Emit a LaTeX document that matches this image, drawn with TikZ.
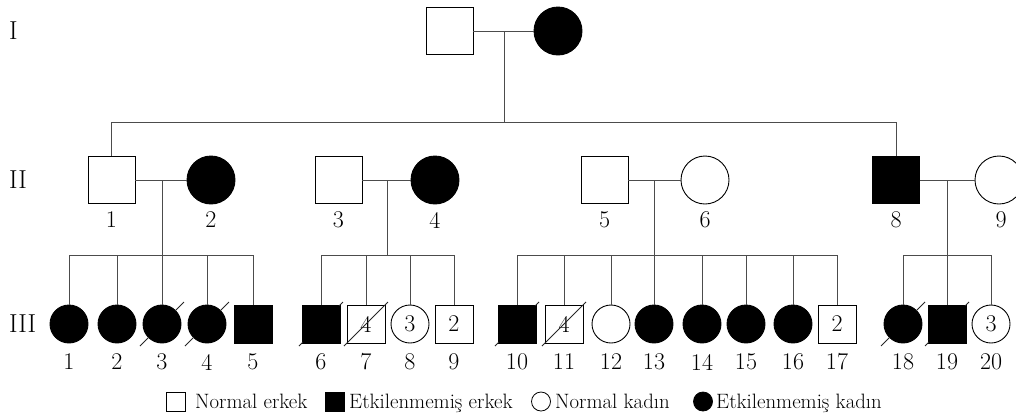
\documentclass[tikz,border=0pt]{standalone}
\usetikzlibrary{calc}
\begin{document}
\begin{tikzpicture}[x=1pt,y=-1pt,
  rel/.style={draw=black!70,line width=0.9pt},
  slashline/.style={draw=black!85,line width=0.9pt},
  sym/.style={draw=black,line width=0.9pt,inner sep=0pt,font=\fontsize{24}{28}\selectfont},
  msym/.style={sym,rectangle,minimum size=47pt},
  fsym/.style={sym,circle,minimum size=48pt},
  mkid/.style={sym,rectangle,minimum size=38pt},
  fkid/.style={sym,circle,minimum size=38pt},
  aff/.style={fill=black},
  lab/.style={inner sep=0pt,font=\fontsize{24}{28}\selectfont},
  gen/.style={inner sep=0pt,anchor=west,font=\fontsize{26}{30}\selectfont},
  legtext/.style={inner sep=0pt,anchor=base west,font=\fontsize{20.8}{24}\selectfont},
  legm/.style={draw=black,line width=0.8pt,rectangle,minimum size=19pt,inner sep=0pt},
  legf/.style={draw=black,line width=0.8pt,circle,minimum size=19pt,inner sep=0pt}
]
\useasboundingbox (0,0) rectangle (1016,416);
\newcommand\deadmark[1]{\draw[slashline] ($(#1)+(-22,22)$) -- ($(#1)+(22,-22)$);}

% generation labels
\node[gen] (gI) at (9,31) {I};
\node[gen] (gII) at (9,180) {II};
\node[gen] (gIII) at (9,324) {III};

% generation I
\node[msym] (i1) at (449.5,31) {};
\node[fsym,aff] (i2) at (558,31) {};
\coordinate (m0) at (504,31);
\coordinate (s0) at (504,122);
\coordinate (s0l) at (111.5,122);
\coordinate (s0r) at (896,122);
\draw[rel] (i1.east) -- (i2.west);
\draw[rel] (m0) -- (s0);
\draw[rel] (s0l) -- (s0r);

% generation II
\node[msym] (a1) at (111.5,180) {};
\node[fsym,aff] (a2) at (211,180) {};
\node[msym] (a3) at (338.5,180) {};
\node[fsym,aff] (a4) at (435,180) {};
\node[msym] (a5) at (604.5,180) {};
\node[fsym] (a6) at (705,180) {};
\node[msym,aff] (a8) at (896,180) {};
\node[fsym] (a9) at (999,180) {};
\draw[rel] (s0l) -- (a1.north);
\draw[rel] (s0r) -- (a8.north);
\draw[rel] (a1.east) -- (a2.west);
\draw[rel] (a3.east) -- (a4.west);
\draw[rel] (a5.east) -- (a6.west);
\draw[rel] (a8.east) -- (a9.west);

\node[lab] (la1) at (111.5,220) {1};
\node[lab] (la2) at (211,220) {2};
\node[lab] (la3) at (338.5,220) {3};
\node[lab] (la4) at (435,220) {4};
\node[lab] (la5) at (604.5,220) {5};
\node[lab] (la6) at (705,220) {6};
\node[lab] (la8) at (896,220) {8};
\node[lab] (la9) at (1001,220) {9};

% couple drop points
\coordinate (m1) at (162,180);
\coordinate (m2) at (387,180);
\coordinate (m3) at (654,180);
\coordinate (m4) at (947,180);
\coordinate (s1) at (162,255);
\coordinate (s2) at (387,255);
\coordinate (s3) at (654,255);
\coordinate (s4) at (947,255);
\draw[rel] (m1) -- (s1);
\draw[rel] (m2) -- (s2);
\draw[rel] (m3) -- (s3);
\draw[rel] (m4) -- (s4);

% generation III
\node[fkid,aff] (c1) at (69,324) {};
\node[fkid,aff] (c2) at (117,324) {};
\node[fkid,aff] (c3) at (162,324) {};
\node[fkid,aff] (c4) at (207,324) {};
\node[mkid,aff] (c5) at (253,324) {};
\node[mkid,aff] (c6) at (321,324) {};
\node[mkid] (c7) at (366,324) {4};
\node[fkid] (c8) at (410,324) {3};
\node[mkid] (c9) at (454,324) {2};
\node[mkid,aff] (c10) at (517,324) {};
\node[mkid] (c11) at (564,324) {4};
\node[fkid] (c12) at (611,324) {};
\node[fkid,aff] (c13) at (654,324) {};
\node[fkid,aff] (c14) at (702,324) {};
\node[fkid,aff] (c15) at (746,324) {};
\node[fkid,aff] (c16) at (793,324) {};
\node[mkid] (c17) at (837,324) {2};
\node[fkid,aff] (c18) at (903,324) {};
\node[mkid,aff] (c19) at (947,324) {};
\node[fkid] (c20) at (991,324) {3};

% sibship lines
\draw[rel] (c1.north |- s1) -- (c5.north |- s1);
\draw[rel] (c6.north |- s2) -- (c9.north |- s2);
\draw[rel] (c10.north |- s3) -- (c17.north |- s3);
\draw[rel] (c18.north |- s4) -- (c20.north |- s4);
\foreach \c in {c1,c2,c3,c4,c5} \draw[rel] (\c.north |- s1) -- (\c.north);
\foreach \c in {c6,c7,c8,c9} \draw[rel] (\c.north |- s2) -- (\c.north);
\foreach \c in {c10,c11,c12,c13,c14,c15,c16,c17} \draw[rel] (\c.north |- s3) -- (\c.north);
\foreach \c in {c18,c19,c20} \draw[rel] (\c.north |- s4) -- (\c.north);

% deceased marks (drawn beneath-looking: black over black fill)
\deadmark{c3}
\deadmark{c4}
\deadmark{c6}
\deadmark{c7}
\deadmark{c10}
\deadmark{c11}
\deadmark{c18}
\deadmark{c19}
% restore solid fill over slash on affected symbols
\foreach \c in {c3,c4,c18} \fill[black] (\c.center) circle (18.5pt);
\foreach \c in {c6,c10,c19} \fill[black] ($(\c.center)+(-18.5,-18.5)$) rectangle ($(\c.center)+(18.5,18.5)$);

% labels generation III
\foreach \c/\t in {c1/1,c2/2,c3/3,c4/4,c5/5,c6/6,c7/7,c8/8,c9/9,c10/10,c11/11,c12/12,c13/13,c14/14,c15/15,c16/16,c17/17,c18/18,c19/19,c20/20}
  \node[lab] (l\c) at ($(\c.center)+(0,38)$) {\t};

% legend
\node[legm] (k1) at (175.5,401.5) {};
\node[legtext] (t1) at (195,408) {Normal erkek};
\node[legm,aff] (k2) at (334.5,401.5) {};
\node[legtext] (t2) at (349,408) {Etkilenmemiş erkek};
\node[legf] (k3) at (541,401.5) {};
\node[legtext] (t3) at (555,408) {Normal kadın};
\node[legf,aff] (k4) at (703,401.5) {};
\node[legtext] (t4) at (716,408) {Etkilenmemiş kadın};
\end{tikzpicture}
\end{document}
